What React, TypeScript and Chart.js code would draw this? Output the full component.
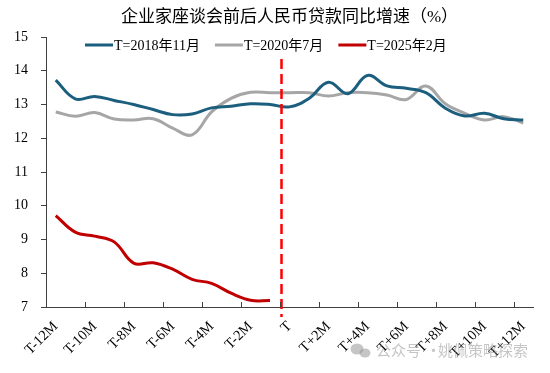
import React, { useEffect, useRef } from "react";
import { Chart, registerables } from "chart.js";

Chart.register(...registerables);

const titleText = "企业家座谈会前后人民币贷款同比增速（%）";
const categories = [
  "T-12M", "T-11M", "T-10M", "T-9M", "T-8M", "T-7M", "T-6M", "T-5M", "T-4M", "T-3M", "T-2M", "T-1M",
  "T",
  "T+1M", "T+2M", "T+3M", "T+4M", "T+5M", "T+6M", "T+7M", "T+8M", "T+9M", "T+10M", "T+11M", "T+12M",
];
const seriesNames = ["T=2018年11月", "T=2020年7月", "T=2025年2月"];
const series2018 = [13.72, 13.17, 13.24, 13.12, 13.0, 12.85, 12.7, 12.72, 12.9, 12.95, 13.02, 13.0,
  12.93, 13.18, 13.66, 13.32, 13.86, 13.55, 13.48, 13.35, 12.89, 12.66, 12.74, 12.58, 12.54];
const series2020 = [12.78, 12.65, 12.76, 12.57, 12.54, 12.58, 12.3, 12.1, 12.78, 13.18, 13.36, 13.35,
  13.35, 13.35, 13.25, 13.35, 13.35, 13.28, 13.15, 13.55, 13.02, 12.74, 12.54, 12.64, 12.45];
const series2025 = [9.71, 9.22, 9.1, 8.93, 8.3, 8.31, 8.12, 7.82, 7.7, 7.41, 7.2, 7.19];
const seriesColors = ["#1B5E7E", "#A6A6A6", "#C00000"];
const yMin = 7;
const yMax = 15;
const eventLabel = "T";
const watermarkParts = ["公众号", "·", "姚佩策略探索"];

const SERIF = "'Liberation Serif', 'Times New Roman', 'Noto Sans CJK SC', serif";

export default function App() {
  const ref = useRef<HTMLCanvasElement | null>(null);

  useEffect(() => {
    document.body.style.margin = "0";
    const canvas = ref.current;
    if (!canvas) return;

    const overlay = {
      id: "overlay",
      afterDatasetsDraw(chart: any) {
        const ctx = chart.ctx;
        const xs = chart.scales.x;
        const area = chart.chartArea;
        const xe = xs.getPixelForValue(categories.indexOf(eventLabel)) - 8;
        ctx.save();
        ctx.strokeStyle = "#FF0000";
        ctx.lineWidth = 2.5;
        ctx.setLineDash([10, 5]);
        ctx.beginPath();
        ctx.moveTo(xe, 59);
        ctx.lineTo(xe, area.bottom + 10);
        ctx.stroke();
        ctx.restore();
      },
      afterDraw(chart: any) {
        const ctx = chart.ctx;
        const xs = chart.scales.x;
        const area = chart.chartArea;
        ctx.save();
        ctx.strokeStyle = "#404040";
        ctx.lineWidth = 1;
        for (let k = 1; k <= 12; k++) {
          const x = Math.round(xs.getPixelForValue(2 * k - 0.5)) + 0.5;
          ctx.beginPath();
          ctx.moveTo(x, area.bottom);
          ctx.lineTo(x, area.bottom - 5);
          ctx.stroke();
        }
        // title
        ctx.fillStyle = "#000";
        ctx.font = `17px ${SERIF}`;
        ctx.textAlign = "center";
        ctx.textBaseline = "middle";
        ctx.fillText(titleText, (area.left + area.right) / 2, 18);
        // legend
        ctx.font = `14px ${SERIF}`;
        ctx.textAlign = "left";
        let x0 = 85;
        const ly = 45;
        seriesNames.forEach((name, i) => {
          ctx.strokeStyle = seriesColors[i];
          ctx.lineWidth = 3;
          ctx.setLineDash([]);
          ctx.beginPath();
          ctx.moveTo(x0, ly);
          ctx.lineTo(x0 + 28, ly);
          ctx.stroke();
          ctx.fillStyle = "#000";
          ctx.fillText(name, x0 + 29, ly + 1);
          x0 += 29 + ctx.measureText(name).width + 15;
        });
        // watermark
        const wy = 350;
        ctx.fillStyle = "rgba(150,150,150,0.55)";
        ctx.beginPath();
        ctx.ellipse(357, wy - 1, 6.5, 5.5, 0, 0, Math.PI * 2);
        ctx.fill();
        ctx.beginPath();
        ctx.ellipse(365, wy + 3, 5.5, 4.5, 0, 0, Math.PI * 2);
        ctx.fill();
        ctx.font = "15px 'Noto Sans CJK SC', sans-serif";
        ctx.fillText(watermarkParts[0], 376, wy);
        ctx.fillText(watermarkParts[1], 426, wy);
        ctx.fillText(watermarkParts[2], 438, wy);
        ctx.restore();
      },
    };

    const mk = (label: string, data: number[], color: string) => ({
      label,
      data,
      borderColor: color,
      backgroundColor: color,
      borderWidth: 3,
      pointRadius: 0,
      tension: 0.4,
      fill: false,
    });

    const chart = new Chart(canvas, {
      type: "line",
      data: {
        labels: categories,
        datasets: [
          mk(seriesNames[0], series2018, seriesColors[0]),
          mk(seriesNames[1], series2020, seriesColors[1]),
          mk(seriesNames[2], series2025, seriesColors[2]),
        ],
      },
      options: {
        animation: false,
        responsive: false,
        maintainAspectRatio: false,
        layout: { padding: { top: 37, right: 17, left: 0, bottom: 0 } },
        plugins: {
          legend: { display: false },
          title: { display: false },
          tooltip: { enabled: false },
        },
        scales: {
          x: {
            type: "category",
            offset: true,
            grid: { display: false, drawTicks: false },
            border: { display: true, color: "#404040", width: 1 },
            ticks: {
              autoSkip: false,
              maxRotation: 45,
              minRotation: 45,
              padding: 11,
              color: "#000",
              font: { family: SERIF, size: 14.5 },
              callback: (_v: any, idx: number) => (idx % 2 === 0 ? categories[idx] : ""),
            },
            afterFit: (s: any) => {
              s.height = 66;
            },
          },
          y: {
            min: yMin,
            max: yMax,
            grid: { display: true, drawOnChartArea: false, drawTicks: true, tickLength: 5, color: "#404040" },
            border: { display: true, color: "#404040", width: 1 },
            ticks: {
              stepSize: 1,
              padding: 13,
              color: "#000",
              font: { family: SERIF, size: 14 },
            },
            afterFit: (s: any) => {
              s.width = 46;
            },
          },
        },
      },
      plugins: [overlay],
    } as any);

    return () => chart.destroy();
  }, []);

  return <canvas ref={ref} width={550} height={373} style={{ display: "block" }} />;
}
